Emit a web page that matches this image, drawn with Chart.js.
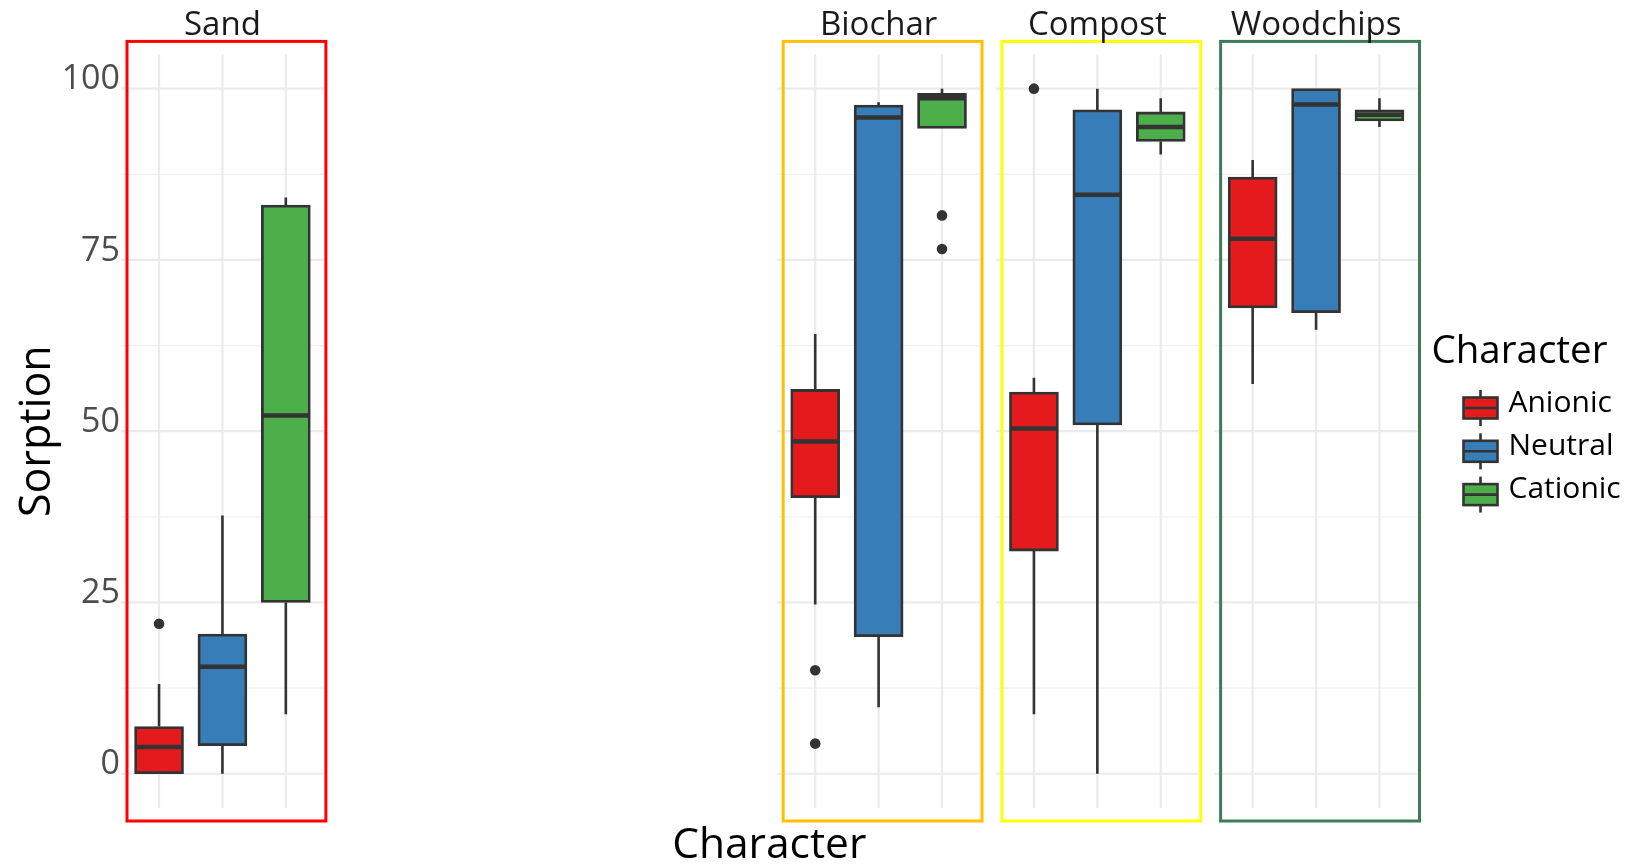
<!DOCTYPE html>
<html>
<head>
<meta charset="utf-8">
<script src="https://cdn.jsdelivr.net/npm/chart.js@4.4.1/dist/chart.umd.min.js"></script>
<style>
  html, body { margin: 0; padding: 0; background: #fff; }
  #wrap { width: 1626px; height: 865px; position: relative; }
</style>
</head>
<body>
<div id="wrap"><canvas id="sorptionChart"></canvas></div>
<script>
const substrates = ['Sand', 'Biochar', 'Compost', 'Woodchips'];
const characters = ['Anionic', 'Neutral', 'Cationic'];

// per substrate: [lower whisker, q1, median, q3, upper whisker]
const anionic = [[0, 0, 3.9, 6.9, 13.1], [24.7, 40.3, 48.5, 56.1, 64.2], [8.7, 32.5, 50.4, 55.7, 57.8], [56.9, 68.0, 78.1, 87.1, 89.6]];
const neutral = [[0, 4.1, 15.6, 20.4, 37.7], [9.7, 20.0, 95.8, 97.6, 98.0], [0, 50.9, 84.5, 96.9, 100], [64.8, 67.3, 97.7, 100, 100]];
const cationic = [[8.7, 25.0, 52.3, 83.0, 84.1], [94.2, 94.2, 98.6, 99.3, 100], [90.4, 92.3, 94.4, 96.6, 98.6], [94.4, 95.3, 96.2, 96.9, 98.6]];

// outliers per substrate
const anionicOut = [[21.9], [15.1, 4.4], [100], []];
const neutralOut = [[], [], [], []];
const cationicOut = [[], [81.5, 76.6], [], []];

const yTicks = [0, 25, 50, 75, 100];
const yMinor = [12.5, 37.5, 62.5, 87.5];

const fillColors = ['#E41A1C', '#377EB8', '#4DAF4A'];
const frameColors = ['#ff0000', '#ffc000', '#ffff00', '#3e7b58'];
const lineCol = '#333333';

// facet slots (two blank facets sit between Sand and Biochar)
const panelSlot = [0, 3, 4, 5];
const PANEL_W = 3.2, PANEL_STEP = 3.45;
const xOf = (s, c) => panelSlot[s] * PANEL_STEP + 0.6 + c;

const stats = [anionic, neutral, cationic];
const outs = [anionicOut, neutralOut, cationicOut];

let datasets = [];
characters.forEach((ch, c) => {
    datasets.push({
        type: 'bar',
        label: ch,
        data: substrates.map((s, i) => ({x: xOf(i, c), y: [stats[c][i][1], stats[c][i][3]]})),
        backgroundColor: fillColors[c],
        borderColor: lineCol,
        borderWidth: 2.8,
        borderSkipped: false,
        barThickness: 49,
        grouped: false,
    });
});

let outPts = [];
outs.forEach((arr, c) => arr.forEach((vals, i) => vals.forEach(v => outPts.push({x: xOf(i, c), y: v}))));
datasets.push({
    type: 'scatter',
    label: 'outliers',
    data: outPts,
    pointRadius: 5.3,
    pointHoverRadius: 5.3,
    backgroundColor: lineCol,
    borderWidth: 0,
});

// panel grid + whiskers under the boxes
const boxUnder = {
    id: 'boxUnder',
    beforeDatasetsDraw(chart) {
        const {ctx, chartArea, scales: {x, y}} = chart;
        ctx.save();
        panelSlot.forEach(slot => {
            const x0 = x.getPixelForValue(slot * PANEL_STEP);
            const x1 = x.getPixelForValue(slot * PANEL_STEP + PANEL_W);
            ctx.strokeStyle = '#f1f1f1';
            ctx.lineWidth = 1.3;
            yMinor.forEach(v => {
                const py = y.getPixelForValue(v);
                ctx.beginPath(); ctx.moveTo(x0, py); ctx.lineTo(x1, py); ctx.stroke();
            });
            ctx.strokeStyle = '#ebebeb';
            ctx.lineWidth = 2.2;
            yTicks.forEach(v => {
                const py = y.getPixelForValue(v);
                ctx.beginPath(); ctx.moveTo(x0, py); ctx.lineTo(x1, py); ctx.stroke();
            });
            for (let c = 0; c < 3; c++) {
                const px = x.getPixelForValue(slot * PANEL_STEP + 0.6 + c);
                ctx.beginPath(); ctx.moveTo(px, chartArea.top); ctx.lineTo(px, chartArea.bottom); ctx.stroke();
            }
        });
        ctx.strokeStyle = lineCol;
        ctx.lineWidth = 2.6;
        stats.forEach((st, c) => {
            st.forEach((row, i) => {
                const px = x.getPixelForValue(xOf(i, c));
                ctx.beginPath();
                ctx.moveTo(px, y.getPixelForValue(row[3])); ctx.lineTo(px, y.getPixelForValue(row[4]));
                ctx.moveTo(px, y.getPixelForValue(row[1])); ctx.lineTo(px, y.getPixelForValue(row[0]));
                ctx.stroke();
            });
        });
        ctx.restore();
    }
};

// medians, facet frames, strip labels, legend
const boxOver = {
    id: 'boxOver',
    afterDatasetsDraw(chart) {
        const {ctx, scales: {x, y}} = chart;
        ctx.save();
        ctx.strokeStyle = lineCol;
        ctx.lineWidth = 4.5;
        stats.forEach((st, c) => {
            const meta = chart.getDatasetMeta(c);
            st.forEach((row, i) => {
                const bar = meta.data[i];
                const py = y.getPixelForValue(row[2]);
                ctx.beginPath();
                ctx.moveTo(bar.x - bar.width / 2 + 1, py);
                ctx.lineTo(bar.x + bar.width / 2 - 1, py);
                ctx.stroke();
            });
        });
        ctx.restore();
    },
    afterDraw(chart) {
        const {ctx, chartArea, scales: {x}} = chart;
        ctx.save();
        panelSlot.forEach((slot, i) => {
            const x0 = x.getPixelForValue(slot * PANEL_STEP);
            const x1 = x.getPixelForValue(slot * PANEL_STEP + PANEL_W);
            ctx.strokeStyle = frameColors[i];
            ctx.lineWidth = 3;
            ctx.strokeRect(x0 + 6, chartArea.top - 13, (x1 + 2) - (x0 + 6), chartArea.bottom - chartArea.top + 26);
            ctx.fillStyle = '#1a1a1a';
            ctx.font = '33px "Open Sans"';
            ctx.textAlign = 'center';
            ctx.textBaseline = 'alphabetic';
            ctx.fillText(substrates[i], (x0 + x1) / 2, chartArea.top - 19.5);
        });

        // legend
        const lx = chartArea.right + 14;
        ctx.textAlign = 'left';
        ctx.fillStyle = '#000';
        ctx.font = '38.5px "Open Sans"';
        ctx.fillText('Character', lx, 363);
        characters.forEach((ch, c) => {
            const cy = 408 + c * 43.3;
            const gx = lx + 32, gw = 34, gh = 21;
            ctx.strokeStyle = lineCol;
            ctx.lineWidth = 2.6;
            ctx.beginPath();
            ctx.moveTo(gx + gw / 2, cy - 18); ctx.lineTo(gx + gw / 2, cy + 18);
            ctx.stroke();
            ctx.fillStyle = fillColors[c];
            ctx.fillRect(gx, cy - gh / 2, gw, gh);
            ctx.strokeRect(gx, cy - gh / 2, gw, gh);
            ctx.beginPath();
            ctx.moveTo(gx, cy); ctx.lineTo(gx + gw, cy);
            ctx.stroke();
            ctx.fillStyle = '#000';
            ctx.font = '30px "Open Sans"';
            ctx.fillText(ch, lx + 77, cy + 3.5);
        });
        ctx.restore();
    }
};

const config = {
    type: 'bar',
    data: {datasets: datasets},
    options: {
        responsive: true,
        maintainAspectRatio: false,
        animation: false,
        layout: {padding: {top: 54.4, right: 208.5, bottom: 0, left: 0}},
        plugins: {
            legend: {display: false},
            tooltip: {enabled: false},
        },
        scales: {
            x: {
                type: 'linear',
                min: 0,
                max: 5 * PANEL_STEP + PANEL_W,
                offset: false,
                afterFit: s => { s.height = 57; },
                grid: {display: false, drawTicks: false},
                border: {display: false},
                ticks: {display: false},
                title: {
                    display: true, text: 'Character', color: '#000', padding: 0,
                    font: {family: 'Open Sans', size: 42.5, lineHeight: 0.9}
                }
            },
            y: {
                min: -5,
                max: 105,
                afterBuildTicks: s => { s.ticks = yTicks.map(v => ({value: v})); },
                afterFit: s => { s.width = 121; },
                grid: {display: false, drawTicks: false},
                border: {display: false},
                ticks: {
                    color: '#4d4d4d', padding: 1, labelOffset: -9,
                    font: {family: 'Open Sans', size: 34}
                },
                title: {
                    display: true, text: 'Sorption', color: '#000',
                    padding: {top: 12, bottom: 0},
                    font: {family: 'Open Sans', size: 43}
                }
            }
        }
    },
    plugins: [boxUnder, boxOver]
};

new Chart(document.getElementById('sorptionChart'), config);
</script>
</body>
</html>
